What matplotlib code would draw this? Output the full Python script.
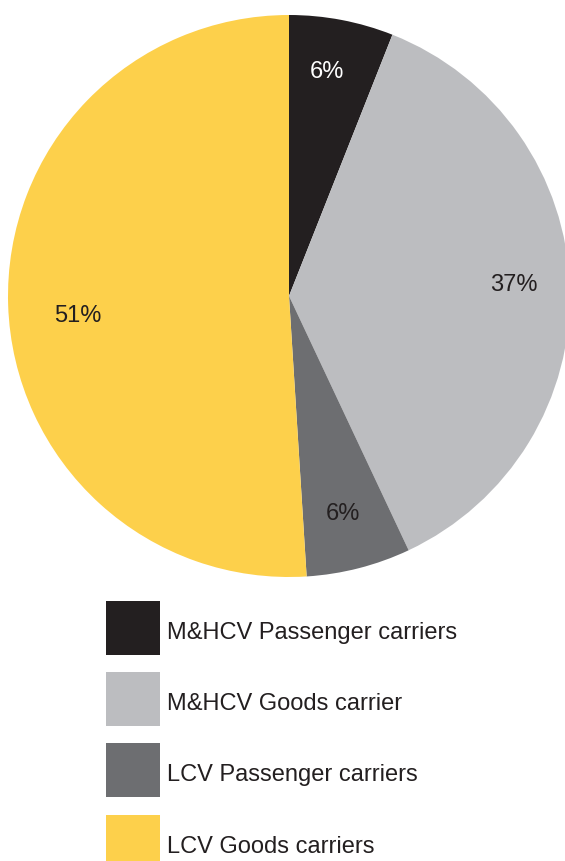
import numpy as np
import matplotlib.pyplot as plt
from matplotlib.patches import Rectangle

plt.rcParams['font.family'] = ['Liberation Sans', 'DejaVu Sans']

# segment shares (%)
segments = ["M&HCV Passenger carriers", "M&HCV Goods carrier",
            "LCV Passenger carriers", "LCV Goods carriers"]
shares = [6, 37, 6, 51]
colors = ["#231f20", "#bcbdc0", "#6d6e71", "#fdd04b"]
label_colors = ["white", "#231f20", "#231f20", "#231f20"]
label_dist = [0.81, 0.80, 0.80, 0.755]
label_shift = [1.3, 1.0, -0.4, 3.5]  # degrees off the wedge middle

W, H = 565, 861
fig = plt.figure(figsize=(W / 100, H / 100), dpi=100)
ax = fig.add_axes([0, 0, 1, 1])

cx, cy, r = 289, H - 296, 281
wedges, _ = ax.pie(shares, colors=colors, startangle=90, counterclock=False,
                   center=(cx, cy), radius=r, frame=True)
ax.set_xlim(0, W)
ax.set_ylim(0, H)
ax.set_aspect("equal")
ax.axis("off")

for w, v, c, d, s in zip(wedges, shares, label_colors, label_dist, label_shift):
    mid = np.deg2rad((w.theta1 + w.theta2) / 2 + s)
    ax.text(cx + d * r * np.cos(mid), cy + d * r * np.sin(mid), f"{v}%",
            ha="center", va="center", fontsize=17, color=c)

# legend boxes
box_top = [601, 672, 743, 815]
for top, col, name in zip(box_top, colors, segments):
    ax.add_patch(Rectangle((106, H - top - 54), 54, 54, color=col, lw=0))
    ax.text(167, H - top - 38, name, ha="left", va="baseline",
            fontsize=17, color="#231f20")

fig.savefig("out.png", dpi=100)
